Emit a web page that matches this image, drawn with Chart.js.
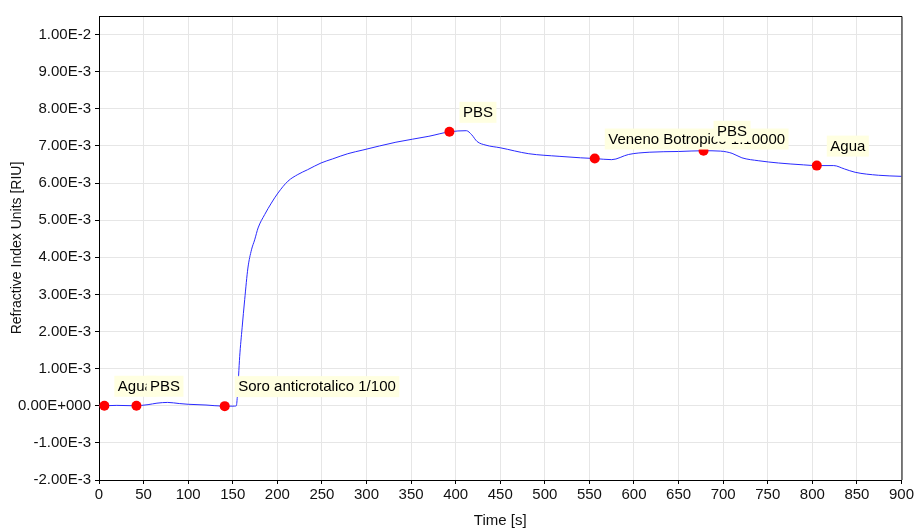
<!DOCTYPE html>
<html>
<head>
<meta charset="utf-8">
<script src="https://cdn.jsdelivr.net/npm/chart.js@4/dist/chart.umd.min.js"></script>
<style>
  html, body { margin: 0; padding: 0; background: #fff; }
</style>
</head>
<body>
<canvas id="riu-chart" width="916" height="530"></canvas>
<script>
// sensorgram trace
var times = [0, 5, 20, 40, 55, 65, 77, 90, 100, 120, 140, 152, 154, 155.3, 157.8, 160.5, 163.4, 167, 171, 174.6,
    178.4, 185.8, 193.3, 200.7, 211.9, 223, 234, 249, 262, 279, 296, 333, 370, 393, 412, 418, 424, 434, 450,
    482, 516, 540, 556, 575, 594, 617, 650, 678, 697, 710, 721, 740, 762, 790, 805, 824, 836, 848, 874, 900];
var riu = [0, 0, 0.01e-3, 0, 0.03e-3, 0.07e-3, 0.09e-3, 0.06e-3, 0.04e-3, 0.02e-3, -0.01e-3, -0.01e-3, 0, 0.30e-3,
    1.33e-3, 2.10e-3, 2.86e-3, 3.71e-3, 4.20e-3, 4.47e-3, 4.79e-3, 5.15e-3, 5.46e-3, 5.73e-3, 6.05e-3, 6.23e-3,
    6.36e-3, 6.54e-3, 6.65e-3, 6.79e-3, 6.89e-3, 7.10e-3, 7.26e-3, 7.38e-3, 7.41e-3, 7.30e-3, 7.12e-3,
    7.02e-3, 6.95e-3, 6.79e-3, 6.72e-3, 6.68e-3, 6.66e-3, 6.63e-3, 6.77e-3, 6.83e-3, 6.85e-3, 6.87e-3, 6.86e-3,
    6.80e-3, 6.68e-3, 6.60e-3, 6.54e-3, 6.49e-3, 6.47e-3, 6.47e-3, 6.38e-3, 6.29e-3, 6.21e-3, 6.18e-3];

// injection events (red markers)
var eventTimes = [6, 42, 141, 393, 556, 678, 805];
var eventValues = [0, 0, -0.01e-3, 7.38e-3, 6.66e-3, 6.87e-3, 6.47e-3];
var eventNames = ['Agua', 'PBS', 'Soro anticrotalico 1/100', 'PBS', 'Veneno Botropico 1:10000', 'PBS', 'Agua'];

var FONT = '"Liberation Sans", Arial, sans-serif';

var trace = times.map(function (t, i) { return { x: t, y: riu[i] }; });
var events = eventTimes.map(function (t, i) { return { x: t, y: eventValues[i] }; });

// yellow note boxes next to each marker + top/right frame
var eventNotes = {
    id: 'eventNotes',
    afterDatasetsDraw: function (chart) {
        var ctx = chart.ctx, x = chart.scales.x, y = chart.scales.y, a = chart.chartArea;
        ctx.save();
        ctx.font = '15px ' + FONT;
        ctx.textBaseline = 'middle';
        eventNames.forEach(function (txt, i) {
            var px = x.getPixelForValue(eventTimes[i]);
            var py = y.getPixelForValue(eventValues[i]);
            var w = ctx.measureText(txt).width + 7;
            ctx.fillStyle = '#ffffe1';
            ctx.fillRect(px + 10, py - 30, w, 21);
            ctx.fillStyle = '#000';
            ctx.fillText(txt, px + 13.5, py - 19);
        });
        ctx.strokeStyle = '#000';
        ctx.lineWidth = 1;
        ctx.beginPath();
        ctx.moveTo(a.left, a.top + 0.5);
        ctx.lineTo(a.right + 0.5, a.top + 0.5);
        ctx.lineTo(a.right + 0.5, a.bottom);
        ctx.stroke();
        ctx.restore();
    }
};

var ctx = document.getElementById('riu-chart').getContext('2d');
var riuChart = new Chart(ctx, {
    type: 'line',
    data: {
        datasets: [
            {
                label: 'events',
                data: events,
                showLine: false,
                pointRadius: 5,
                pointBackgroundColor: '#ff0000',
                pointBorderColor: '#ff0000',
                pointBorderWidth: 0,
                order: 0
            },
            {
                label: 'signal',
                data: trace,
                borderColor: '#2a2aff',
                borderWidth: 1,
                pointRadius: 0,
                cubicInterpolationMode: 'monotone',
                fill: false,
                order: 1
            }
        ]
    },
    plugins: [eventNotes],
    options: {
        responsive: false,
        animation: false,
        layout: { padding: { top: 16, right: 13, left: 0, bottom: 0 } },
        plugins: {
            legend: { display: false },
            tooltip: { enabled: false }
        },
        scales: {
            x: {
                type: 'linear',
                min: 0,
                max: 900,
                ticks: { stepSize: 50, padding: 2, color: '#111', font: { family: FONT, size: 15 } },
                grid: { color: '#e6e6e6', tickColor: '#000', tickLength: 4 },
                border: { color: '#000' },
                title: { display: true, text: 'Time [s]', color: '#111', padding: { top: 2, bottom: 0 }, font: { family: FONT, size: 15 } },
                afterFit: function (scale) { scale.height = 50; }
            },
            y: {
                min: -0.002,
                max: 0.0105,
                afterBuildTicks: function (scale) {
                    scale.ticks = scale.ticks.filter(function (t) {
                        return Math.abs(t.value * 1000 - Math.round(t.value * 1000)) < 1e-6;
                    });
                },
                ticks: {
                    stepSize: 0.001,
                    padding: 4,
                    color: '#111',
                    font: { family: FONT, size: 15 },
                    callback: function (v) {
                        if (Math.abs(v) < 1e-9) return '0.00E+000';
                        return v.toExponential(2).toUpperCase();
                    }
                },
                grid: { color: '#e6e6e6', tickColor: '#000', tickLength: 4 },
                border: { color: '#000' },
                title: { display: true, text: 'Refractive Index Units [RIU]', color: '#111', padding: { top: 9, bottom: 0 }, font: { family: FONT, size: 14 } },
                afterFit: function (scale) { scale.width = 99; }
            }
        }
    }
});
</script>
</body>
</html>
